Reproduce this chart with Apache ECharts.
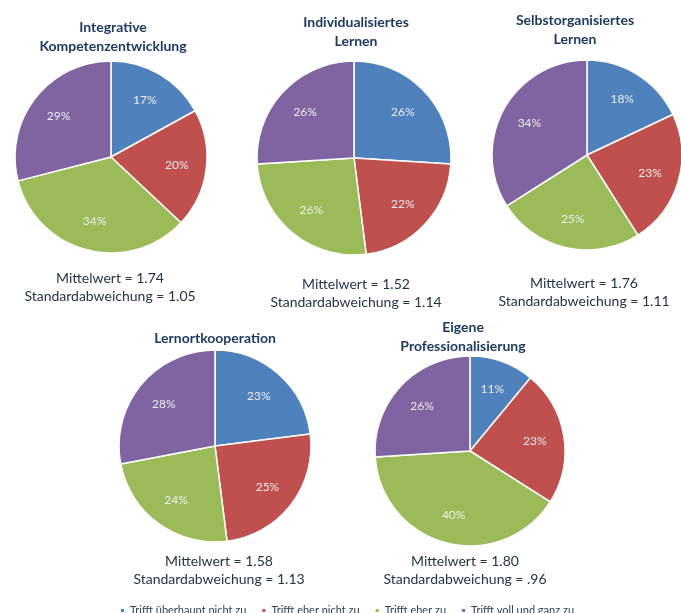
<!DOCTYPE html>
<html>
<head>
<meta charset="utf-8">
<script src="https://cdn.jsdelivr.net/npm/echarts@6/dist/echarts.min.js"></script>
<style>
html,body{margin:0;padding:0;background:#fff;}
#c{width:681px;height:613px;}
</style>
</head>
<body>
<div id="c"></div>
<script>
// ---- data ----
const categories = ['Trifft überhaupt nicht zu', 'Trifft eher nicht zu', 'Trifft eher zu', 'Trifft voll und ganz zu'];
const titles = ['Integrative\nKompetenzentwicklung', 'Individualisiertes\nLernen', 'Selbstorganisiertes\nLernen', 'Lernortkooperation', 'Eigene\nProfessionalisierung'];
const valuesIntegrative = [17, 20, 34, 29];
const valuesIndividual = [26, 22, 26, 26];
const valuesSelbst = [18, 23, 25, 34];
const valuesLernort = [23, 25, 24, 28];
const valuesEigene = [11, 23, 40, 26];
const means = ['1.74', '1.52', '1.76', '1.58', '1.80'];
const sds = ['1.05', '1.14', '1.11', '1.13', '.96'];

// ---- layout / style ----
const colors = ['#4F81BD', '#C0504D', '#9BBB59', '#8064A2'];
const allValues = [valuesIntegrative, valuesIndividual, valuesSelbst, valuesLernort, valuesEigene];
const pies = [
  {cx: 111, cy: 157, r: 96, tx: 113, ty: 37, mx: 110, my: 278},
  {cx: 354, cy: 158, r: 97, tx: 356, ty: 32, mx: 356, my: 284},
  {cx: 587, cy: 155, r: 95, tx: 575, ty: 30, mx: 584, my: 283},
  {cx: 215, cy: 446, r: 96, tx: 215, ty: 338, mx: 219, my: 561},
  {cx: 470, cy: 451, r: 95, tx: 463, ty: 337, mx: 465, my: 561}
];
const FONT = 'Lato, "Open Sans", sans-serif';

const series = [];
const graphics = [];
pies.forEach((p, i) => {
  const data = categories.map((c, k) => ({name: c, value: allValues[i][k]}));
  series.push({
    type: 'pie', center: [p.cx, p.cy], radius: [0, p.r],
    startAngle: 90, clockwise: true, animation: false, silent: true,
    color: colors,
    itemStyle: {borderColor: '#ffffff', borderWidth: 1.5},
    label: {show: false}, labelLine: {show: false},
    data: data
  });
  series.push({
    type: 'pie', center: [p.cx, p.cy], radius: [p.r * 0.32, p.r],
    startAngle: 90, clockwise: true, animation: false, silent: true, z: 5,
    itemStyle: {color: 'rgba(0,0,0,0)', borderWidth: 0},
    label: {show: true, position: 'inside', formatter: '{c}%', color: '#eeeeee', fontSize: 12, fontFamily: FONT},
    labelLine: {show: false},
    data: data
  });
  graphics.push({
    type: 'text', x: p.tx, y: p.ty,
    style: {text: titles[i], textAlign: 'center', textVerticalAlign: 'middle', fill: '#1F3A60',
      font: 'bold 14px ' + FONT, lineHeight: 19}
  });
  graphics.push({
    type: 'text', x: p.mx, y: p.my + 9,
    style: {text: 'Mittelwert = ' + means[i] + '\nStandardabweichung = ' + sds[i], textAlign: 'center', textVerticalAlign: 'middle', fill: '#243447',
      font: '14px ' + FONT, lineHeight: 18}
  });
});

const chart = echarts.init(document.getElementById('c'), null, {renderer: 'canvas'});
chart.setOption({
  animation: false,
  backgroundColor: '#ffffff',
  legend: {
    left: 114, top: 600, itemWidth: 5, itemHeight: 5, itemGap: 14, icon: 'rect',
    textStyle: {fontSize: 11, color: '#2F4058', fontFamily: FONT},
    data: categories.map((c, k) => ({name: c, itemStyle: {color: colors[k]}}))
  },
  graphic: graphics,
  series: series
});
</script>
</body>
</html>
